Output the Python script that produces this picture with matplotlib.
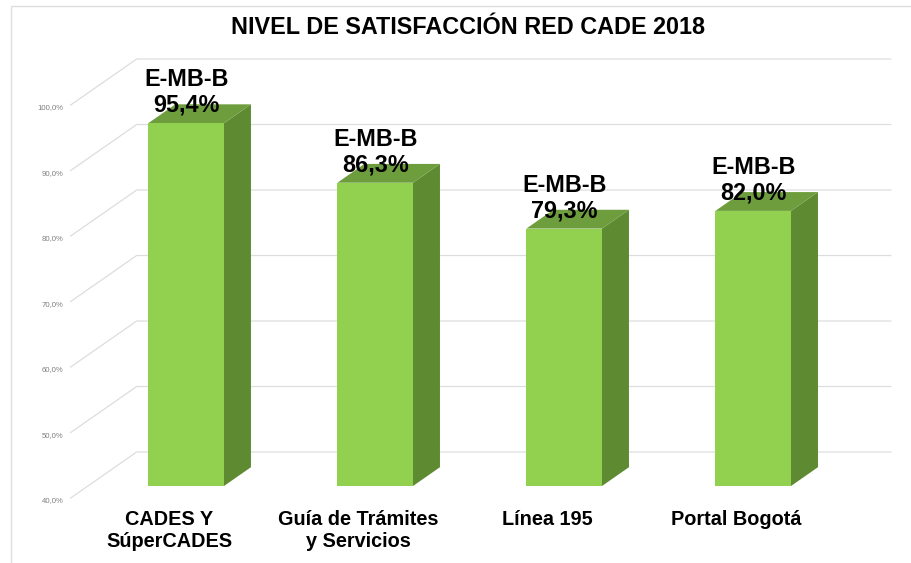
import numpy as np
import matplotlib.pyplot as plt
from matplotlib.patches import Polygon, Rectangle

plt.rcParams['font.family'] = ['Liberation Sans', 'DejaVu Sans']

# datos
categorias = ['CADES Y\nSúperCADES', 'Guía de Trámites\ny Servicios', 'Línea 195', 'Portal Bogotá']
valores = [95.4, 86.3, 79.3, 82.0]
etiquetas = ['95,4%', '86,3%', '79,3%', '82,0%']
nivel = 'E-MB-B'
ticks = [40, 50, 60, 70, 80, 90, 100]
tick_labels = ['40,0%', '50,0%', '60,0%', '70,0%', '80,0%', '90,0%', '100,0%']
titulo = 'NIVEL DE SATISFACCIÓN RED CADE 2018'

# perspectiva (profundidad en unidades de datos)
DX, DY = 0.349, 7.02
F1, F2 = 0.261, 0.67
ANCHO = 0.40
BASE = 40
x_izq, x_der = -0.52, 3.47

C_FRENTE = '#92D050'
C_LADO = '#5E8A32'
C_TOPE = '#6D9D3C'
C_GRID = '#DDDDDD'

fig = plt.figure(figsize=(9.11, 5.63), dpi=100)
ax = fig.add_axes([0, 0, 1, 1])
ax.set_xlim(-0.894, 3.926)
ax.set_ylim(30.076, 116.03)
ax.axis('off')

# marco
fig.patches.append(Rectangle((11 / 911, -0.1), 1.2, 1.1 - 6 / 563,
                             transform=fig.transFigure, fill=False,
                             edgecolor=C_GRID, lw=1))

# lineas de cuadricula: pared lateral + pared de fondo
for t, lab in zip(ticks, tick_labels):
    ax.plot([x_izq, x_izq + DX, x_der + DX], [t, t + DY, t + DY],
            color=C_GRID, lw=0.9, zorder=1)
    ax.text(x_izq - 0.04, t - 0.46, lab, ha='right', va='center',
            fontsize=5.6, color='#7F7F7F')

# barras 3D
x = np.arange(len(valores))
frente = ax.bar(x + DX * F1, np.array(valores) - BASE, width=ANCHO,
                bottom=BASE + DY * F1, color=C_FRENTE, zorder=4)
for xi, v in zip(x, valores):
    xl = xi + DX * F1 - ANCHO / 2
    xr = xi + DX * F1 + ANCHO / 2
    yb = BASE + DY * F1
    yt = v + DY * F1
    ddx, ddy = DX * (F2 - F1), DY * (F2 - F1)
    lado = Polygon([(xr, yb), (xr + ddx, yb + ddy), (xr + ddx, yt + ddy), (xr, yt)],
                   closed=True, facecolor=C_LADO, edgecolor='none', zorder=3)
    tope = Polygon([(xl, yt), (xr, yt), (xr + ddx, yt + ddy), (xl + ddx, yt + ddy)],
                   closed=True, facecolor=C_TOPE, edgecolor='none', zorder=3)
    ax.add_patch(lado)
    ax.add_patch(tope)

# etiquetas de datos
for xi, v, et in zip(x, valores, etiquetas):
    cx = xi + DX * F1
    ax.text(cx, v + DY * F1 + 1.7, et, ha='center', va='baseline',
            fontsize=16.8, fontweight='bold', color='black', zorder=6)
    ax.text(cx, v + DY * F1 + 5.6, nivel, ha='center', va='baseline',
            fontsize=16.8, fontweight='bold', color='black', zorder=6)

# categorias
for xi, cat in zip(x, categorias):
    ax.text(xi, 38.24, cat, ha='center', va='top', fontsize=14.3,
            fontweight='bold', color='black', linespacing=1.2)

ax.text(1.585, 111.9, titulo, ha='center', va='center', fontsize=16.8,
        fontweight='bold', color='black')

fig.savefig('out.png', dpi=100)
